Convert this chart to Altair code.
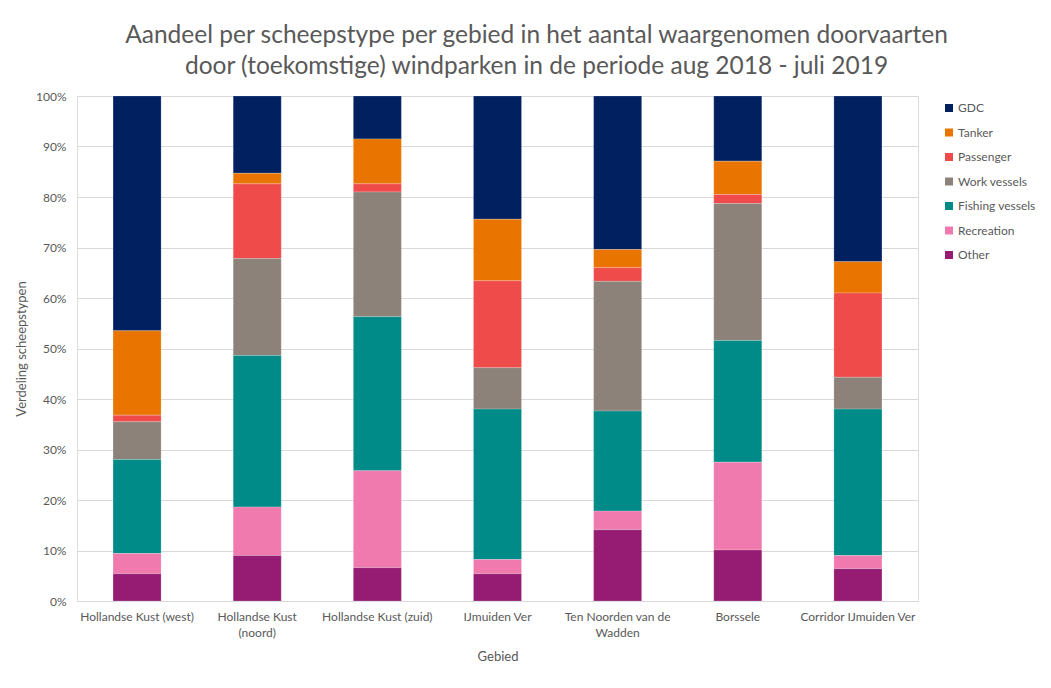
import altair as alt
import pandas as pd

gebieden = [
    "Hollandse Kust (west)",
    "Hollandse Kust (noord)",
    "Hollandse Kust (zuid)",
    "IJmuiden Ver",
    "Ten Noorden van de Wadden",
    "Borssele",
    "Corridor IJmuiden Ver",
]
scheepstypen = ["GDC", "Tanker", "Passenger", "Work vessels", "Fishing vessels", "Recreation", "Other"]
kleuren = ["#002060", "#E97500", "#EF4B4B", "#8C8279", "#008B88", "#F07AAE", "#951C72"]

# percentages per scheepstype (order of gebieden)
gdc = [46.5, 15.3, 8.5, 24.4, 30.4, 12.9, 32.8]
tanker = [16.7, 2.1, 8.9, 12.2, 3.6, 6.6, 6.2]
passenger = [1.3, 14.8, 1.6, 17.2, 2.7, 1.8, 16.7]
work = [7.5, 19.2, 24.7, 8.2, 25.7, 27.1, 6.3]
fishing = [18.6, 30.0, 30.5, 29.8, 19.8, 24.1, 29.0]
recreation = [4.0, 9.6, 19.2, 2.8, 3.7, 17.4, 2.6]
other = [5.4, 9.0, 6.6, 5.4, 14.1, 10.1, 6.4]

series = [gdc, tanker, passenger, work, fishing, recreation, other]
rows = []
for t, vals in zip(scheepstypen, series):
    for g, v in zip(gebieden, vals):
        rows.append({"Gebied": g, "Type": t, "Waarde": v,
                     "Volgorde": len(scheepstypen) - scheepstypen.index(t)})
df = pd.DataFrame(rows)

FONT = "Lato"
GREY = "#595959"

label_expr = (
    "datum.value == 'Hollandse Kust (noord)' ? ['Hollandse Kust', '(noord)'] : "
    "datum.value == 'Ten Noorden van de Wadden' ? ['Ten Noorden van de', 'Wadden'] : datum.value"
)

bars = alt.Chart(df).mark_bar(stroke="white", strokeWidth=0.4, strokeOpacity=0.5).encode(
    x=alt.X("Gebied:N", sort=gebieden, title="Gebied",
            scale=alt.Scale(paddingInner=0.6, paddingOuter=0.3),
            axis=alt.Axis(labelAngle=0, labelExpr=label_expr, labelFontSize=12,
                          labelColor=GREY, labelFont=FONT, labelPadding=10,
                          labelLineHeight=16, ticks=False, domainColor="#D9D9D9",
                          titleFont=FONT, titleFontSize=13, titleColor=GREY,
                          titleFontWeight="normal", titlePadding=12)),
    y=alt.Y("Waarde:Q", stack="normalize", title="Verdeling scheepstypen",
            axis=alt.Axis(format=".0%", values=[i / 10 for i in range(11)],
                          labelFontSize=12, labelColor=GREY, labelFont=FONT,
                          labelPadding=11, ticks=False, domain=False,
                          gridColor="#D9D9D9", titleFont=FONT, titleFontSize=13,
                          titleColor=GREY, titleFontWeight="normal", titlePadding=7)),
    color=alt.Color("Type:N", scale=alt.Scale(domain=scheepstypen, range=kleuren),
                    legend=alt.Legend(title=None, orient="none", legendX=866, legendY=6,
                                      symbolType="square", symbolSize=64,
                                      symbolStrokeWidth=0, labelFont=FONT,
                                      labelFontSize=12, labelColor=GREY,
                                      rowPadding=12.5, labelOffset=3)),
    order=alt.Order("Volgorde:Q", sort="ascending"),
)

frame = alt.Chart(pd.DataFrame({"a": [0]})).mark_rule(color="#D9D9D9", strokeWidth=1.5).encode(
    x=alt.value(-70), y=alt.value(-91), y2=alt.value(600)
) + alt.Chart(pd.DataFrame({"a": [0]})).mark_rule(color="#D9D9D9", strokeWidth=1.5).encode(
    x=alt.value(-70), x2=alt.value(980), y=alt.value(-91)
)

chart = alt.layer(bars, frame).properties(
    width=841, height=505,
    padding={"left": 69, "top": 88, "right": 125, "bottom": 80},
    autosize=alt.AutoSizeParams(type="none"),
    title=alt.TitleParams(
        ["Aandeel per scheepstype per gebied in het aantal waargenomen doorvaarten",
         "door (toekomstige) windparken in de periode aug 2018 - juli 2019"],
        font=FONT, fontSize=24.5, color=GREY, fontWeight="normal",
        anchor="middle", dx=39, dy=89, offset=14, lineHeight=31,
    ),
).configure_view(stroke=None).configure(background="white")

chart.save("out.html", embed_options={"renderer": "svg", "actions": False})
